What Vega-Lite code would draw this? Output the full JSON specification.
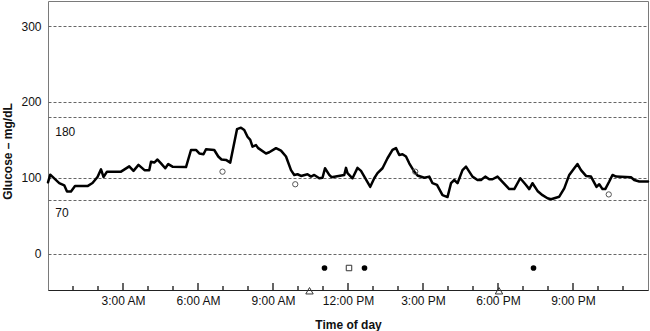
{
  "$schema": "https://vega.github.io/schema/vega-lite/v6.json",
  "width": 600,
  "height": 289,
  "autosize": {"type": "none"},
  "padding": {"left": 48, "top": 1, "right": 2, "bottom": 41},
  "config": {
    "view": {"stroke": "#7a7a7a", "strokeWidth": 1},
    "font": "Liberation Sans"
  },
  "datasets": {
    "cgm": [
      {"hour": 0.0, "glucose": 94}, {"hour": 0.09, "glucose": 104}, {"hour": 0.45, "glucose": 93},
      {"hour": 0.65, "glucose": 90}, {"hour": 0.76, "glucose": 82}, {"hour": 0.92, "glucose": 82},
      {"hour": 1.08, "glucose": 89}, {"hour": 1.58, "glucose": 89}, {"hour": 1.78, "glucose": 93},
      {"hour": 1.98, "glucose": 101}, {"hour": 2.12, "glucose": 111}, {"hour": 2.22, "glucose": 101},
      {"hour": 2.36, "glucose": 108}, {"hour": 2.92, "glucose": 108}, {"hour": 3.25, "glucose": 115},
      {"hour": 3.42, "glucose": 109}, {"hour": 3.62, "glucose": 117}, {"hour": 3.86, "glucose": 110},
      {"hour": 4.05, "glucose": 110}, {"hour": 4.12, "glucose": 121}, {"hour": 4.25, "glucose": 120},
      {"hour": 4.38, "glucose": 124}, {"hour": 4.52, "glucose": 119}, {"hour": 4.69, "glucose": 112.5},
      {"hour": 4.81, "glucose": 118}, {"hour": 4.98, "glucose": 114.6}, {"hour": 5.52, "glucose": 114},
      {"hour": 5.72, "glucose": 136.6}, {"hour": 5.92, "glucose": 136.6}, {"hour": 6.05, "glucose": 132},
      {"hour": 6.22, "glucose": 131}, {"hour": 6.32, "glucose": 137.5}, {"hour": 6.65, "glucose": 136.6},
      {"hour": 6.81, "glucose": 128}, {"hour": 6.94, "glucose": 124}, {"hour": 7.12, "glucose": 123.5},
      {"hour": 7.29, "glucose": 120}, {"hour": 7.56, "glucose": 164}, {"hour": 7.72, "glucose": 166},
      {"hour": 7.85, "glucose": 163}, {"hour": 7.98, "glucose": 154}, {"hour": 8.09, "glucose": 150},
      {"hour": 8.18, "glucose": 141}, {"hour": 8.32, "glucose": 143}, {"hour": 8.41, "glucose": 139},
      {"hour": 8.72, "glucose": 132}, {"hour": 8.85, "glucose": 133.6}, {"hour": 9.12, "glucose": 139},
      {"hour": 9.32, "glucose": 135.7}, {"hour": 9.52, "glucose": 128}, {"hour": 9.72, "glucose": 110},
      {"hour": 9.85, "glucose": 103.7}, {"hour": 9.98, "glucose": 104.6}, {"hour": 10.12, "glucose": 102.4},
      {"hour": 10.38, "glucose": 104.6}, {"hour": 10.52, "glucose": 101.5}, {"hour": 10.65, "glucose": 103.7},
      {"hour": 10.85, "glucose": 99.3}, {"hour": 10.98, "glucose": 100}, {"hour": 11.08, "glucose": 112.5},
      {"hour": 11.25, "glucose": 103.7}, {"hour": 11.34, "glucose": 100.7}, {"hour": 11.85, "glucose": 103.7},
      {"hour": 11.92, "glucose": 113}, {"hour": 11.98, "glucose": 106}, {"hour": 12.18, "glucose": 99.3},
      {"hour": 12.38, "glucose": 113}, {"hour": 12.52, "glucose": 109}, {"hour": 12.89, "glucose": 88},
      {"hour": 13.05, "glucose": 99.3}, {"hour": 13.18, "glucose": 106}, {"hour": 13.38, "glucose": 112.5},
      {"hour": 13.58, "glucose": 125.7}, {"hour": 13.78, "glucose": 136.6}, {"hour": 13.92, "glucose": 139},
      {"hour": 14.05, "glucose": 130}, {"hour": 14.18, "glucose": 131}, {"hour": 14.32, "glucose": 128},
      {"hour": 14.45, "glucose": 119}, {"hour": 14.65, "glucose": 108}, {"hour": 14.78, "glucose": 103},
      {"hour": 15.05, "glucose": 100}, {"hour": 15.25, "glucose": 101.5}, {"hour": 15.38, "glucose": 92.8},
      {"hour": 15.56, "glucose": 90.5}, {"hour": 15.78, "glucose": 77}, {"hour": 15.98, "glucose": 74.5},
      {"hour": 16.12, "glucose": 92.8}, {"hour": 16.25, "glucose": 97}, {"hour": 16.38, "glucose": 92.8},
      {"hour": 16.58, "glucose": 110}, {"hour": 16.72, "glucose": 114.6}, {"hour": 16.98, "glucose": 101.5},
      {"hour": 17.18, "glucose": 97}, {"hour": 17.32, "glucose": 97}, {"hour": 17.49, "glucose": 101.5},
      {"hour": 17.65, "glucose": 98}, {"hour": 17.78, "glucose": 98}, {"hour": 17.98, "glucose": 101.5},
      {"hour": 18.45, "glucose": 85}, {"hour": 18.65, "glucose": 85}, {"hour": 18.89, "glucose": 99.3},
      {"hour": 19.12, "glucose": 90.5}, {"hour": 19.25, "glucose": 85}, {"hour": 19.38, "glucose": 92.8},
      {"hour": 19.58, "glucose": 82.6}, {"hour": 19.78, "glucose": 77}, {"hour": 19.98, "glucose": 73},
      {"hour": 20.12, "glucose": 71.7}, {"hour": 20.45, "glucose": 75}, {"hour": 20.65, "glucose": 86},
      {"hour": 20.85, "glucose": 103.7}, {"hour": 21.05, "glucose": 112.5}, {"hour": 21.18, "glucose": 118},
      {"hour": 21.32, "glucose": 110}, {"hour": 21.52, "glucose": 102.4}, {"hour": 21.72, "glucose": 101.5},
      {"hour": 21.94, "glucose": 88}, {"hour": 22.05, "glucose": 91.4}, {"hour": 22.18, "glucose": 85},
      {"hour": 22.29, "glucose": 85}, {"hour": 22.45, "glucose": 95}, {"hour": 22.58, "glucose": 103.7},
      {"hour": 22.72, "glucose": 101.5}, {"hour": 23.32, "glucose": 100.7}, {"hour": 23.45, "glucose": 97},
      {"hour": 23.65, "glucose": 95}, {"hour": 24.0, "glucose": 95}
    ],
    "finger": [
      {"hour": 6.98, "glucose": 108}, {"hour": 9.89, "glucose": 91.4},
      {"hour": 14.69, "glucose": 108}, {"hour": 22.43, "glucose": 78}
    ],
    "events": [
      {"hour": 11.06, "glucose": -19, "kind": "filled"},
      {"hour": 12.66, "glucose": -19, "kind": "filled"},
      {"hour": 19.42, "glucose": -19, "kind": "filled"},
      {"hour": 12.04, "glucose": -19, "kind": "square"},
      {"hour": 10.46, "glucose": -49, "kind": "triangle"},
      {"hour": 18.04, "glucose": -49, "kind": "triangle"}
    ],
    "hourticks": [
      {"hour": 1, "major": false}, {"hour": 2, "major": false}, {"hour": 3, "major": true},
      {"hour": 4, "major": false}, {"hour": 5, "major": false}, {"hour": 6, "major": true},
      {"hour": 7, "major": false}, {"hour": 8, "major": false}, {"hour": 9, "major": true},
      {"hour": 10, "major": false}, {"hour": 11, "major": false}, {"hour": 12, "major": true},
      {"hour": 13, "major": false}, {"hour": 14, "major": false}, {"hour": 15, "major": true},
      {"hour": 16, "major": false}, {"hour": 17, "major": false}, {"hour": 18, "major": true},
      {"hour": 19, "major": false}, {"hour": 20, "major": false}, {"hour": 21, "major": true},
      {"hour": 22, "major": false}, {"hour": 23, "major": false}
    ],
    "refs": [
      {"hour": 0.29, "glucose": 160, "label": "180"},
      {"hour": 0.29, "glucose": 54, "label": "70"}
    ]
  },
  "layer": [
    {
      "data": {"name": "cgm"},
      "mark": {"type": "line", "color": "#000", "strokeWidth": 2.5, "strokeJoin": "round", "strokeCap": "round"},
      "encoding": {
        "x": {
          "field": "hour", "type": "quantitative",
          "scale": {"domain": [0, 24], "nice": false, "zero": false},
          "axis": {
            "values": [3, 6, 9, 12, 15, 18, 21],
            "labelExpr": "(datum.value % 12 === 0 ? 12 : datum.value % 12) + ':00 ' + (datum.value < 12 ? 'AM' : 'PM')",
            "labelOverlap": false, "labelFlush": false, "labelBound": false,
            "grid": false,
            "ticks": false,
            "domainColor": "#222", "domainWidth": 1,
            "labelFontSize": 12, "labelColor": "#111", "labelPadding": 5,
            "title": "Time of day", "titleFontSize": 12, "titleFontWeight": "bold", "titleColor": "#111",
            "titleY": 34, "titleBaseline": "middle"
          }
        },
        "y": {
          "field": "glucose", "type": "quantitative",
          "scale": {"domain": [-48, 333], "nice": false, "zero": false},
          "axis": {
            "values": [0, 70, 100, 180, 200, 300],
            "labelExpr": "datum.value == 70 || datum.value == 180 ? '' : datum.label",
            "labelOverlap": false, "labelFlush": false,
            "grid": true, "gridDash": [3, 2], "gridColor": "#666", "gridWidth": 1,
            "ticks": false, "domain": false,
            "labelPadding": 7, "labelFontSize": 12, "labelColor": "#111",
            "title": "Glucose – mg/dL", "titleFontSize": 12, "titleFontWeight": "bold", "titleColor": "#111",
            "titleX": -41, "titleY": 150, "titleAngle": -90, "titleAlign": "center", "titleBaseline": "middle"
          }
        }
      }
    },
    {
      "data": {"name": "hourticks"},
      "transform": [{"filter": "datum.major"}],
      "mark": {"type": "tick", "orient": "vertical", "size": 7, "thickness": 1.3, "color": "#111", "opacity": 1, "yOffset": -3.5},
      "encoding": {
        "x": {"field": "hour", "type": "quantitative"},
        "y": {"datum": -48, "type": "quantitative"}
      }
    },
    {
      "data": {"name": "hourticks"},
      "transform": [{"filter": "!datum.major"}],
      "mark": {"type": "tick", "orient": "vertical", "size": 4, "thickness": 1.3, "color": "#111", "opacity": 1, "yOffset": -2},
      "encoding": {
        "x": {"field": "hour", "type": "quantitative"},
        "y": {"datum": -48, "type": "quantitative"}
      }
    },
    {
      "data": {"name": "finger"},
      "mark": {"type": "point", "shape": "circle", "size": 28, "filled": false, "stroke": "#555", "strokeWidth": 1, "opacity": 1},
      "encoding": {
        "x": {"field": "hour", "type": "quantitative"},
        "y": {"field": "glucose", "type": "quantitative"}
      }
    },
    {
      "data": {"name": "events"},
      "transform": [{"filter": "datum.kind === 'filled'"}],
      "mark": {"type": "point", "shape": "circle", "size": 32, "filled": true, "color": "#000", "opacity": 1},
      "encoding": {
        "x": {"field": "hour", "type": "quantitative"},
        "y": {"field": "glucose", "type": "quantitative"}
      }
    },
    {
      "data": {"name": "events"},
      "transform": [{"filter": "datum.kind === 'square'"}],
      "mark": {"type": "point", "shape": "square", "size": 30, "filled": false, "stroke": "#333", "strokeWidth": 1, "opacity": 1},
      "encoding": {
        "x": {"field": "hour", "type": "quantitative"},
        "y": {"field": "glucose", "type": "quantitative"}
      }
    },
    {
      "data": {"name": "events"},
      "transform": [{"filter": "datum.kind === 'triangle'"}],
      "mark": {"type": "point", "shape": "triangle-up", "size": 55, "filled": false, "stroke": "#333", "strokeWidth": 1, "opacity": 1},
      "encoding": {
        "x": {"field": "hour", "type": "quantitative"},
        "y": {"field": "glucose", "type": "quantitative"}
      }
    },
    {
      "data": {"name": "refs"},
      "mark": {"type": "text", "align": "left", "baseline": "middle", "fontSize": 12, "color": "#111", "font": "Liberation Sans"},
      "encoding": {
        "x": {"field": "hour", "type": "quantitative"},
        "y": {"field": "glucose", "type": "quantitative"},
        "text": {"field": "label"}
      }
    }
  ]
}
